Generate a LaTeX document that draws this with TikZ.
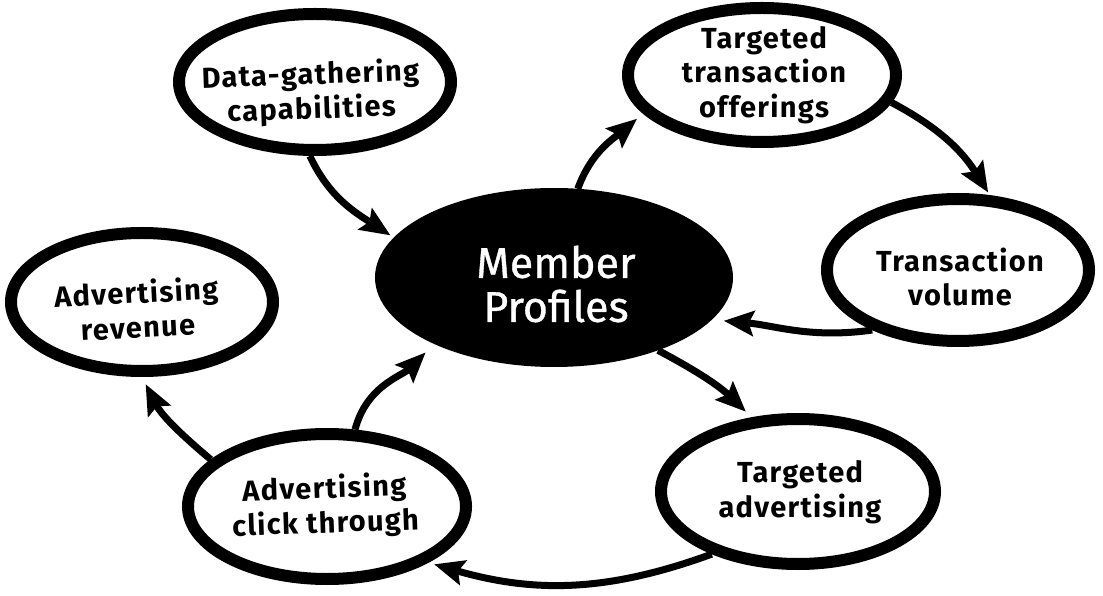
\documentclass[tikz,border=0pt]{standalone}
\usepackage{fontspec}
\setmainfont{Fira Sans}
\newfontfamily\mpfont[FakeBold=0.8]{Fira Sans}
\newfontfamily\labfont[LetterSpace=4.5]{Fira Sans}
\usetikzlibrary{arrows.meta,shapes.geometric}
\begin{document}
\begin{tikzpicture}[x=1pt,y=1pt,
  bub/.style={ellipse,draw=black,line width=12pt,fill=white,inner sep=0pt},
  lab/.style={align=center,font=\labfont\fontsize{29}{34.5}\selectfont\bfseries,inner sep=0pt},
  arr/.style={line width=7pt,-{Stealth[length=30pt,width=25pt,inset=5pt]}}]
\useasboundingbox (0,0) rectangle (1103,595);
% bubbles
\node[bub,minimum width=272pt,minimum height=136pt] (dg)  at (315,513) {};
\node[bub,minimum width=268pt,minimum height=134pt] (tto) at (762,520) {};
\node[bub,minimum width=262pt,minimum height=142pt] (tv)  at (958,325) {};
\node[bub,minimum width=274pt,minimum height=145pt] (ta)  at (798,103.5) {};
\node[bub,minimum width=278pt,minimum height=145pt] (ct)  at (327,88.5) {};
\node[bub,minimum width=262pt,minimum height=138pt] (ar)  at (142,293) {};
\node[ellipse,fill=black,inner sep=0pt,outer sep=0pt,minimum width=358pt,minimum height=179pt] (mp) at (554,317.5) {};
% labels
\node[lab,rotate=2] (dgt) at (311,502) {Data-gathering\\capabilities};
\node[lab] (ttot) at (764,520) {Targeted\\transaction\\offerings};
\node[lab] (tvt) at (960,318) {Transaction\\volume};
\node[lab] (tat) at (800,103) {Targeted\\advertising};
\node[lab,rotate=2] (ctt) at (325,88) {Advertising\\click through};
\node[lab,rotate=3] (art) at (137,286) {Advertising\\revenue};
\node[align=center,text=white,font=\mpfont\fontsize{43}{44}\selectfont,inner sep=0pt] (mpt) at (556,311) {Member\\Profiles};
% connectors
\draw[arr,shorten >=4pt]  (dg.-94)    to[out=-65,in=147] (mp.166.5);
\draw[arr,shorten >=8pt]  (mp.75)     to[out=70,in=220]  (tto.198.6);
\draw[arr,shorten >=3pt]  (tto.-12)   to[out=-28,in=122] (tv.67.4);
\draw[arr,shorten >=12pt] (tv.215)    to[out=188,in=-5]  (mp.-15.7);
\draw[arr,shorten >=8pt]  (mp.-35.5)  to[out=-28,in=136] (ta.122.9);
\draw[arr,shorten >=6pt]  (ta.216.4)  to[out=200,in=-16] (ct.-29.7);
\draw[arr,shorten >=12pt] (ct.70)     to[out=75,in=225]  (mp.209.7);
\draw[arr,shorten >=8pt]  (ct.158.6)  to[out=140,in=-63] (ar.-90);
\end{tikzpicture}
\end{document}
